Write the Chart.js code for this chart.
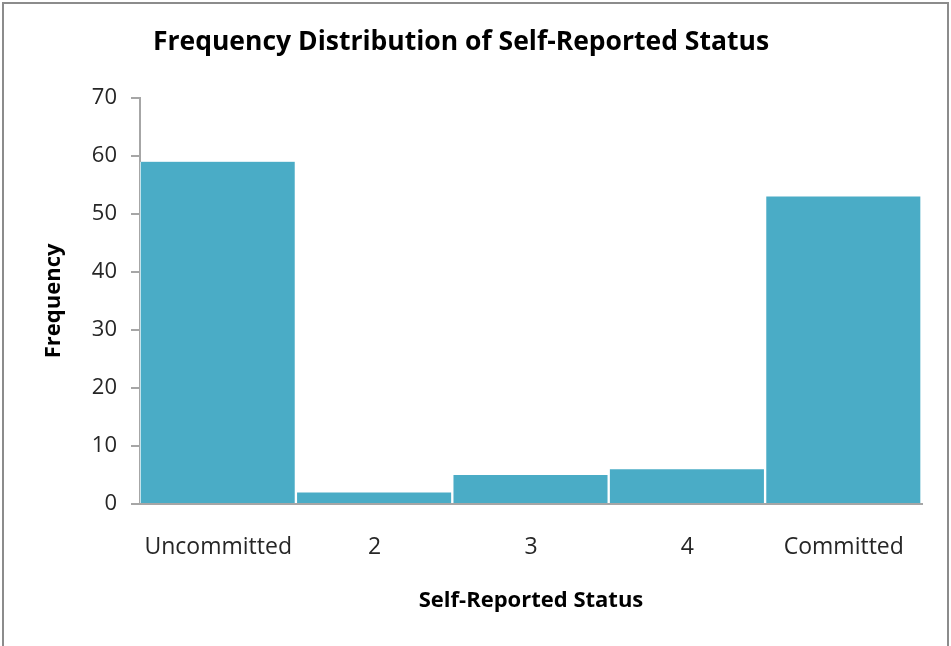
<!DOCTYPE html>
<html>
<head>
<meta charset="utf-8">
<script src="https://cdn.jsdelivr.net/npm/chart.js@4"></script>
<style>
  html, body { margin: 0; padding: 0; background: #fff; }
  #wrap { position: relative; width: 951px; height: 646px; }
</style>
</head>
<body>
<div id="wrap"><canvas id="chart" width="951" height="646"></canvas></div>
<script>
"use strict"

var categories = ['Uncommitted', '2', '3', '4', 'Committed']
var frequency = [59, 2, 5, 6, 53]
var yTicks = [0, 10, 20, 30, 40, 50, 60, 70]

var font = 'Open Sans'
var textColor = '#262626'

// outer grey frame of the chart
var framePlugin = {
    id: 'frame',
    beforeDraw: function (chart) {
        var c = chart.ctx
        c.save()
        c.fillStyle = '#fff'
        c.fillRect(0, 0, chart.width, chart.height)
        c.strokeStyle = '#8c8c8c'
        c.lineWidth = 2
        c.strokeRect(3, 3, chart.width - 6, chart.height + 10)
        c.restore()
    }
}

var ctx = document.getElementById('chart').getContext('2d')
var chart = new Chart(ctx, {
    type: 'bar',
    data: {
        labels: categories,
        datasets: [{
            label: 'Frequency',
            data: frequency,
            backgroundColor: '#4aacc6',
            borderColor: '#ffffff',
            borderWidth: { left: 1, right: 2, top: 0, bottom: 0 },
            borderSkipped: false,
            categoryPercentage: 1.0,
            barPercentage: 1.0
        }]
    },
    plugins: [framePlugin],
    options: {
        responsive: false,
        animation: false,
        layout: { padding: { left: 0, right: 29, top: 0, bottom: 0 } },
        plugins: {
            legend: { display: false },
            tooltip: { enabled: false },
            title: {
                display: true,
                text: 'Frequency Distribution of Self-Reported Status',
                color: '#000',
                font: { family: font, size: 26.5, weight: 'bold' },
                padding: { top: 27, bottom: 39 }
            }
        },
        scales: {
            x: {
                grid: { display: false, drawTicks: false },
                border: { color: '#a6a6a6', width: 2 },
                ticks: {
                    color: textColor,
                    font: { family: font, size: 23 },
                    padding: 30,
                    maxRotation: 0
                },
                title: {
                    display: true,
                    text: 'Self-Reported Status',
                    color: '#000',
                    font: { family: font, size: 22, weight: 'bold' },
                    padding: { top: 0, bottom: 32 }
                },
                afterFit: function (scale) { scale.height = 142 }
            },
            y: {
                min: 0,
                max: 70,
                afterBuildTicks: function (scale) {
                    scale.ticks = yTicks.map(function (v) { return { value: v } })
                },
                grid: {
                    drawOnChartArea: false,
                    drawTicks: true,
                    tickLength: 9,
                    color: '#a6a6a6',
                    lineWidth: 2
                },
                border: { color: '#a6a6a6', width: 2 },
                ticks: {
                    color: textColor,
                    font: { family: font, size: 22 },
                    padding: 14
                },
                title: {
                    display: true,
                    text: 'Frequency',
                    color: '#000',
                    font: { family: font, size: 22, weight: 'bold' },
                    padding: { top: 41, bottom: 0 }
                },
                afterFit: function (scale) { scale.width = 140 }
            }
        }
    }
})
</script>
</body>
</html>
